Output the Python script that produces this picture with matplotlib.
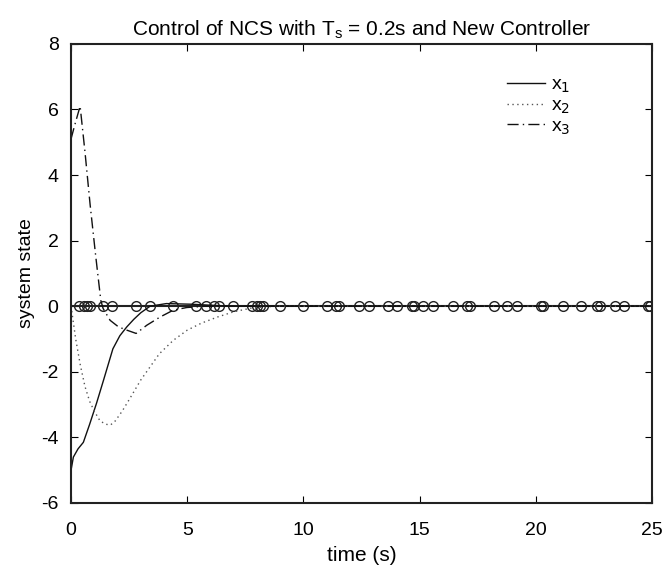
import matplotlib.pyplot as plt
import numpy as np

# ===== data =====
t_x1 = [0, 0.1, 0.3, 0.53, 0.8, 1.1, 1.4, 1.8, 2.1, 2.4, 2.7, 3.0, 3.4, 4.1, 5.2, 6.0, 7.0, 25]
x1 = [-5.0, -4.6, -4.35, -4.15, -3.6, -2.95, -2.25, -1.3, -0.9, -0.63, -0.4, -0.2, 0.0, 0.08, 0.06, 0.03, 0.0, 0.0]

t_x2 = [0, 0.1, 0.2, 0.4, 0.6, 0.8, 1.0, 1.25, 1.5, 1.7, 1.9, 2.2, 2.5, 3.0, 3.4,
        3.8, 4.4, 5.0, 5.6, 6.3, 7.0, 7.8, 8.8, 25]
x2 = [0, -0.5, -1.0, -1.8, -2.45, -2.9, -3.2, -3.5, -3.6, -3.62, -3.5, -3.2, -2.85,
      -2.25, -1.85, -1.45, -1.04, -0.73, -0.52, -0.33, -0.17, -0.05, 0, 0]

t_x3 = [0, 0.15, 0.39, 0.6, 0.82, 1.05, 1.28, 1.38, 1.68, 2.04, 2.4, 2.8, 3.26, 3.83, 4.4, 4.98, 5.8, 25]
x3 = [5.1, 5.5, 6.1, 4.7, 3.1, 1.6, 0.18, -0.07, -0.43, -0.63, -0.73, -0.83, -0.58, -0.33, -0.12, -0.04, 0, 0]

# transmission instants (circles on the zero line)
t_events = [0.36, 0.56, 0.70, 0.82, 1.36, 1.78, 2.80, 3.40, 4.40, 5.38, 5.80, 6.15, 6.38,
            6.98, 7.77, 7.99, 8.13, 8.25, 9.0, 10.0, 11.0, 11.4, 11.55, 12.41, 12.8, 13.65,
            14.01, 14.66, 14.76, 15.16, 15.59, 16.42, 17.03, 17.17, 18.21, 18.75, 19.18,
            20.22, 20.32, 21.18, 21.95, 22.62, 22.76, 23.41, 23.81, 24.81, 24.91]

plt.rcParams['font.family'] = ['Liberation Sans', 'DejaVu Sans']
plt.rcParams['axes.unicode_minus'] = False

fig = plt.figure(figsize=(6.64, 5.69), dpi=100)
ax = fig.add_axes([0.107, 0.116, 0.875, 0.807])

ax.plot([0] + t_events + [25], np.zeros(len(t_events) + 2), color='#222222', lw=1.5)
ax.plot(t_events, np.zeros(len(t_events)), 'o', ms=7, mfc='none', mec='#222222', mew=1.0)

ax.plot(t_x1, x1, color='#111111', lw=1.0, ls='-', label='x$_1$')
ax.plot(t_x2, x2, color='#555555', lw=1.0, ls=(0, (1, 2.5)), label='x$_2$')
ax.plot(t_x3, x3, color='#111111', lw=1.0, ls=(0, (8, 3, 1, 3)), label='x$_3$')

ax.set_xlim(0, 25)
ax.set_ylim(-6, 8)
ax.set_xticks([0, 5, 10, 15, 20, 25])
ax.set_yticks([-6, -4, -2, 0, 2, 4, 6, 8])
ax.tick_params(direction='in', top=True, right=True, labelsize=14, length=5)
ax.tick_params(axis='x', pad=14)
ax.tick_params(axis='y', pad=9)
for s in ax.spines.values():
    s.set_linewidth(1.5)
    s.set_color('#222222')

ax.set_xlabel('time (s)', fontsize=15, labelpad=5)
ax.set_ylabel('system state', fontsize=14, labelpad=4)
ax.set_title('Control of NCS with T$_\\mathregular{s}$ = 0.2s and New Controller', fontsize=15, pad=6)

ax.legend(loc='upper left', bbox_to_anchor=(0.75, 0.93), frameon=False, fontsize=14,
          borderpad=0, borderaxespad=0, handlelength=1.95, handletextpad=0.3, labelspacing=0.1)

plt.savefig('out.png', dpi=100, facecolor='white')
